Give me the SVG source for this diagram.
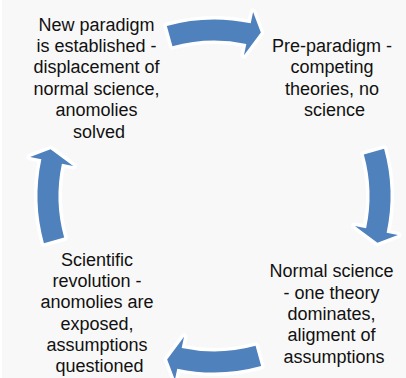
<svg xmlns="http://www.w3.org/2000/svg" width="406" height="378" viewBox="0 0 406 378">
  <style>
    .arrow { fill: #4f81bd; stroke: #ffffff; stroke-width: 7; stroke-linejoin: round; paint-order: stroke; }
    .label { font-family: "Liberation Sans", Arial, sans-serif; font-size: 18px; fill: #111111; text-anchor: middle; }
  </style>
  <defs>
    <!-- One curved arrow on the cycle circle (centre 214,196), pointing clockwise at the top -->
    <path id="cycle-arrow" class="arrow"
          d="M166.84,25.92 A176.5,176.5 0 0 1 250.70,23.36 L253.09,12.11 L260.85,32.58 L243.94,55.15 L246.33,43.90 A155.5,155.5 0 0 0 172.45,46.16 Z"/>
  </defs>
  <rect width="406" height="378" fill="#f8f8f8"/>
  <rect width="2" height="378" fill="#ffffff"/>

  <g id="connectors">
    <use href="#cycle-arrow"/>
    <use href="#cycle-arrow" transform="rotate(90 214 196)"/>
    <use href="#cycle-arrow" transform="rotate(180 214 196)"/>
    <use href="#cycle-arrow" transform="rotate(270 214 196)"/>
  </g>

  <g id="node-new-paradigm">
    <text class="label" x="99">
      <tspan x="99" y="30.5">New paradigm</tspan>
      <tspan x="99" y="52">is established -</tspan>
      <tspan x="99" y="73.3">displacement of</tspan>
      <tspan x="99" y="94.7">normal science,</tspan>
      <tspan x="99" y="116">anomolies</tspan>
      <tspan x="99" y="137.5">solved</tspan>
    </text>
  </g>

  <g id="node-pre-paradigm">
    <text class="label">
      <tspan x="334.5" y="52">Pre-paradigm -</tspan>
      <tspan x="334.5" y="73.3">competing</tspan>
      <tspan x="334.5" y="94.7">theories, no</tspan>
      <tspan x="334.5" y="116">science</tspan>
    </text>
  </g>

  <g id="node-normal-science">
    <text class="label">
      <tspan x="334" y="277">Normal science</tspan>
      <tspan x="334" y="298.5">- one theory</tspan>
      <tspan x="334" y="320">dominates,</tspan>
      <tspan x="334" y="341.3">aligment of</tspan>
      <tspan x="334" y="362.7">assumptions</tspan>
    </text>
  </g>

  <g id="node-scientific-revolution">
    <text class="label">
      <tspan x="99.5" y="265.5">Scientific</tspan>
      <tspan x="99.5" y="287">revolution -</tspan>
      <tspan x="99.5" y="308.3">anomolies are</tspan>
      <tspan x="99.5" y="329.7">exposed,</tspan>
      <tspan x="99.5" y="351">assumptions</tspan>
      <tspan x="99.5" y="372.4">questioned</tspan>
    </text>
  </g>
</svg>
